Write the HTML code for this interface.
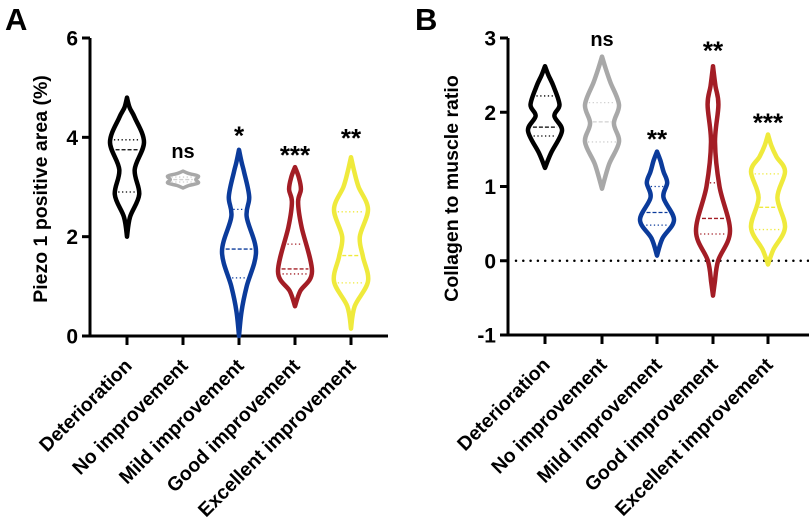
<!DOCTYPE html>
<html><head><meta charset="utf-8"><style>
body{margin:0;background:#fff;}
svg{display:block;font-family:"Liberation Sans",Arial,sans-serif;font-weight:bold;}
</style></head><body>
<svg id="c" width="809" height="529" viewBox="0 0 809 529" xmlns="http://www.w3.org/2000/svg"></svg>
<script>
const categories = ["Deterioration","No improvement","Mild improvement","Good improvement","Excellent improvement"];
const colors = ["#000000","#a8a8a8","#0b3b9b","#a31d25","#efea3c"];
// Panel A: profiles [value, relative half-width 0..1]
const profA0 = [[4.8,0],[4.6,0.15],[4.4,0.45],[3.9,1.0],[3.35,0.45],[2.85,0.72],[2.4,0.18],[2.0,0]];
const profA1 = [[3.32,0],[3.27,0.35],[3.22,0.9],[3.15,0.75],[3.08,0.9],[3.03,0.35],[2.98,0]];
const profA2 = [[3.75,0],[3.5,0.15],[3.3,0.3],[2.8,0.6],[2.4,0.45],[1.7,1.0],[1.0,0.45],[0.5,0.15],[0.0,0]];
const profA3 = [[3.4,0],[3.2,0.22],[2.95,0.35],[2.7,0.18],[2.2,0.38],[1.3,1.0],[0.9,0.3],[0.6,0]];
const profA4 = [[3.6,0],[3.3,0.2],[3.0,0.45],[2.55,1.0],[2.0,0.52],[1.6,0.7],[1.1,1.0],[0.6,0.22],[0.15,0]];
const quartA = [[3.95,3.75,2.9],[3.2,3.15,3.1],[2.55,1.75,1.17],[1.85,1.35,1.25],[2.5,1.62,1.07]];
const sigA = ["","ns","*","***","**"];
const sigAy = [0,3.75,4.1,3.7,4.05];
// Panel B
const profB0 = [[2.62,0],[2.5,0.2],[2.35,0.5],[2.1,0.85],[1.95,0.55],[1.75,1.0],[1.45,0.35],[1.25,0]];
const profB1 = [[2.75,0],[2.6,0.2],[2.4,0.5],[2.1,1.0],[1.85,0.7],[1.6,1.0],[1.3,0.42],[0.97,0]];
const profB2 = [[1.47,0],[1.35,0.2],[1.2,0.38],[1.05,0.6],[0.85,0.38],[0.55,1.0],[0.3,0.32],[0.07,0]];
const profB3 = [[2.62,0],[2.35,0.15],[2.1,0.32],[1.6,0.12],[1.0,0.38],[0.4,1.0],[0.0,0.3],[-0.3,0.1],[-0.47,0]];
const profB4 = [[1.7,0],[1.55,0.2],[1.4,0.5],[1.2,1.0],[0.85,0.55],[0.45,1.0],[0.15,0.32],[-0.05,0]];
const quartB = [[2.22,1.8,1.68],[2.13,1.87,1.6],[1.0,0.65,0.48],[1.05,0.57,0.36],[1.17,0.72,0.42]];
const sigB = ["","ns","**","**","***"];
const sigBy = [0,3.0,1.68,2.87,1.9];
const ticksA = [0,2,4,6];
const ticksB = [-1,0,1,2,3];

const svg = document.getElementById('c');
const NS = "http://www.w3.org/2000/svg";
function mk(tag, attrs, parent){const e=document.createElementNS(NS,tag);for(const k in attrs)e.setAttribute(k,attrs[k]);(parent||svg).appendChild(e);return e;}

function interpW(p,v){for(let i=0;i<p.length-1;i++){const a=p[i],b=p[i+1];if(v<=a[0]&&v>=b[0]){const t=(a[0]-v)/(a[0]-b[0]);return a[1]+(b[1]-a[1])*t;}}return 0;}
function smoothPath(pts){let d="M"+pts[0][0].toFixed(1)+","+pts[0][1].toFixed(1);
 for(let i=0;i<pts.length-1;i++){const p0=pts[Math.max(0,i-1)],p1=pts[i],p2=pts[i+1],p3=pts[Math.min(pts.length-1,i+2)];
  const c1=[p1[0]+(p2[0]-p0[0])/6,p1[1]+(p2[1]-p0[1])/6],c2=[p2[0]-(p3[0]-p1[0])/6,p2[1]-(p3[1]-p1[1])/6];
  d+=" C"+c1.map(n=>n.toFixed(1)).join(",")+" "+c2.map(n=>n.toFixed(1)).join(",")+" "+p2[0].toFixed(1)+","+p2[1].toFixed(1);}
 return d;}

function panel(cfg){
 const {x0,x1,yTop,yBot,vMin,vMax,ticks,profs,quarts,sig,sigY,xs,title,titleX,letter,letterX,zeroLine,pid}=cfg;
 const y=v=>yBot-(v-vMin)/(vMax-vMin)*(yBot-yTop);
 const maxW=17;
 const g=mk('g',{});
 
 
 const L=mk('text',{x:letterX,y:30,'font-size':31,fill:'#000'},g);L.textContent=letter;
 
 const ax=mk('line',{x1:x0,y1:yTop,x2:x0,y2:yBot+1.5,stroke:'#000','stroke-width':3},g);
 
 const xa=mk('line',{x1:x0-1.5,y1:yBot,x2:x1,y2:yBot,stroke:'#000','stroke-width':3},g);
 
 ticks.forEach(t=>{
  const tl=mk('line',{x1:x0-8,y1:y(t),x2:x0,y2:y(t),stroke:'#000','stroke-width':3},g);
  
  const tx=mk('text',{x:x0-12,y:y(t)+7.5,'font-size':21,'text-anchor':'end'},g);tx.textContent=t;
  
 });
 const at=mk('text',{transform:`translate(${titleX},${(yTop+yBot)/2+2}) rotate(-90)`,'font-size':19.5,'text-anchor':'middle'},g);
 at.textContent=title;
 if(zeroLine){const z=mk('line',{x1:x0+8,y1:y(0),x2:809,y2:y(0),stroke:'#000','stroke-width':2.5,'stroke-dasharray':'0 7.3','stroke-linecap':'round'},g);
  }
 categories.forEach((c,i)=>{
  const cx=xs[i];
  const tk=mk('line',{x1:cx,y1:yBot,x2:cx,y2:yBot+9,stroke:'#000','stroke-width':3},g);
  
  const lb=mk('text',{transform:`translate(${cx+6},${yBot+31}) rotate(-45)`,'font-size':19.5,'text-anchor':'end'},g);
  lb.textContent=c;
  const p=profs[i];
  const right=p.map(q=>[cx+q[1]*maxW,y(q[0])]);
  const left=p.slice().reverse().map(q=>[cx-q[1]*maxW,y(q[0])]);
  const d=smoothPath(right)+" "+smoothPath(left).replace(/^M/,"L")+" Z";
  const vg=mk('g',{},g);
  
  mk('path',{d:d,fill:'none',stroke:colors[i],'stroke-width':i==1&&pid=='a'?3.5:4.5,'stroke-linejoin':'round'},vg);
  quarts[i].forEach((qv,k)=>{
   const w=interpW(p,qv)*maxW-3;
   if(w<=0)return;
   const ql=mk('line',{x1:cx-w,y1:y(qv),x2:cx+w,y2:y(qv),stroke:i==1?'#d0d0d0':colors[i],'stroke-width':1.3,'stroke-dasharray':k==1?'4 2':'1.3 2.5'},vg);
   
  });
  if(sig[i]){const s=mk('text',{x:cx,y:y(sigY[i])+(sig[i]=='ns'?8:12),'font-size':sig[i]=='ns'?20:26,'text-anchor':'middle'},g);
   s.textContent=sig[i];}
 });
}
panel({pid:'a',x0:90,x1:388,yTop:38,yBot:336,vMin:0,vMax:6,ticks:ticksA,profs:[profA0,profA1,profA2,profA3,profA4],quarts:quartA,sig:sigA,sigY:sigAy,xs:[127,183,239,295,351],title:"Piezo 1 positive area (%)",titleX:47,letter:"A",letterX:5,zeroLine:false});
panel({pid:'b',x0:508,x1:809,yTop:38,yBot:335,vMin:-1,vMax:3,ticks:ticksB,profs:[profB0,profB1,profB2,profB3,profB4],quarts:quartB,sig:sigB,sigY:sigBy,xs:[545,602,657,713,768],title:"Collagen to muscle ratio",titleX:458,letter:"B",letterX:415,zeroLine:true});
</script>
</body></html>
